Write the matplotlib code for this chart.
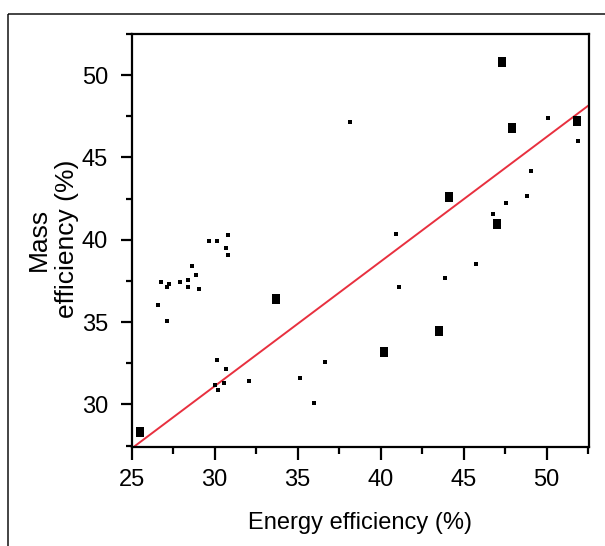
import matplotlib
matplotlib.use("Agg")
import matplotlib.pyplot as plt
from matplotlib import font_manager
from matplotlib.patches import Rectangle
from matplotlib.path import Path
from matplotlib.ticker import MultipleLocator
import numpy as np

# ---- data ----
small_energy = [29.67, 30.12, 30.80, 30.68, 30.80, 28.63, 28.86, 26.78, 27.25, 27.13,
                27.93, 28.39, 28.39, 29.07, 26.57, 27.13, 30.12, 30.68, 30.00, 30.56,
                30.22, 32.07, 35.14, 35.96, 36.64, 38.13, 40.90, 50.08, 51.90, 49.04,
                48.81, 47.55, 46.75, 41.12, 43.87, 45.72]
small_mass = [39.90, 39.90, 40.32, 39.49, 39.09, 38.38, 37.84, 37.41, 37.29, 37.13,
              37.41, 37.55, 37.13, 36.99, 36.02, 35.05, 32.70, 32.14, 31.19, 31.31,
              30.88, 31.45, 31.58, 30.06, 32.56, 47.13, 40.34, 47.39, 46.02, 44.20,
              42.68, 42.26, 41.58, 37.13, 37.70, 38.52]
big_energy = [25.50, 33.69, 40.20, 43.50, 44.11, 47.00, 47.30, 47.89, 51.80]
big_mass = [28.35, 36.42, 33.19, 34.44, 42.62, 40.95, 50.77, 46.76, 47.19]
fit_slope = 0.757
fit_intercept = 8.40
x_ticks = [25, 30, 35, 40, 45, 50]
y_ticks = [30, 35, 40, 45, 50]

names = {f.name for f in font_manager.fontManager.ttflist}
narrow = "Liberation Sans Narrow" if "Liberation Sans Narrow" in names else "Liberation Sans"
regular = "Liberation Sans"

W, H = 605, 546
fig = plt.figure(figsize=(W / 100, H / 100), dpi=100)
ax = fig.add_axes([131.7 / W, 1 - 446.7 / H, (589 - 131.7) / W, (446.7 - 34) / H])

# outer frame
fig.patches.append(Rectangle((7.5 / W, 1 - 13.5 / H), 2.0, -2.0, transform=fig.transFigure,
                             fill=False, edgecolor="#111111", linewidth=1.1, clip_on=False))

rect_marker = Path([(-0.4, -0.5), (0.4, -0.5), (0.4, 0.5), (-0.4, 0.5), (-0.4, -0.5)],
                   [Path.MOVETO, Path.LINETO, Path.LINETO, Path.LINETO, Path.CLOSEPOLY])

ax.plot(small_energy, small_mass, linestyle="none", marker="s", markersize=3.0,
        color="black", markeredgewidth=0, zorder=3)
ax.plot(big_energy, big_mass, linestyle="none", marker=rect_marker, markersize=7.6,
        color="black", markeredgewidth=0, zorder=3)

xl = np.array([25.0, 52.55])
ax.plot(xl, fit_slope * xl + fit_intercept, color="#e8303f", linewidth=1.4, zorder=2)

ax.set_xlim(25, 52.55)
ax.set_ylim(27.43, 52.5)
ax.set_xticks(x_ticks)
ax.set_yticks(y_ticks)
ax.xaxis.set_minor_locator(MultipleLocator(2.5))
ax.yaxis.set_minor_locator(MultipleLocator(2.5))

for s in ax.spines.values():
    s.set_linewidth(1.6)
ax.tick_params(which="both", direction="out", top=False, right=False, width=1.6, colors="black")
ax.tick_params(axis="x", which="major", length=9, pad=7)
ax.tick_params(axis="x", which="minor", length=5)
ax.tick_params(axis="y", which="major", length=8, pad=9)
ax.tick_params(axis="y", which="minor", length=4)
for lab in ax.get_xticklabels() + ax.get_yticklabels():
    lab.set_fontfamily(narrow)
    lab.set_fontsize(17)

fig.text(359.7 / W, 1 - 529.3 / H, "Energy efficiency (%)", ha="center", va="baseline",
         fontfamily=narrow, fontsize=17)
fig.text(53 / W, 1 - 239 / H, "Mass\nefficiency (%)", rotation=90, ha="center", va="center",
         multialignment="center", fontfamily=regular, fontsize=19, linespacing=1.2)

fig.savefig("out.png", dpi=100)
